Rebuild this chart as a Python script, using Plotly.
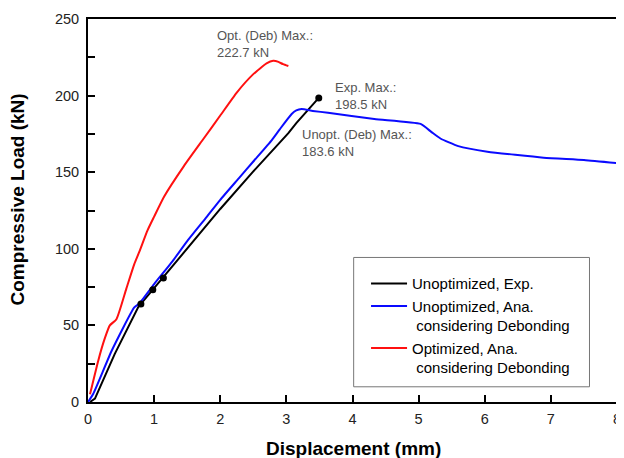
import plotly.graph_objects as go

# ---- data ----
exp_x = [0.03, 0.105, 0.405, 0.76, 0.8, 0.98, 1.14, 1.5, 2.0, 2.5, 3.03, 3.15, 3.49]
exp_y = [0.0, 2.2, 31.4, 62.0, 64.0, 73.3, 81.0, 99.5, 126.0, 150.5, 175.5, 182.0, 198.5]
exp_marker_x = [0.8, 0.98, 1.14, 3.49]
exp_marker_y = [64.0, 73.3, 81.0, 198.5]

unopt_x = [0.0, 0.08, 0.36, 0.7, 0.78, 1.0, 1.28, 1.5, 1.78, 2.0, 2.28, 2.5, 2.78, 2.9,
           3.08, 3.15, 3.23, 3.4, 3.63, 4.33, 5.03, 5.2, 5.33, 5.6, 6.04, 6.89, 7.5, 7.99]
unopt_y = [0.0, 5.4, 33.6, 61.7, 64.5, 77.0, 92.0, 105.0, 120.0, 132.0, 146.0, 157.0, 171.0, 178.0,
           188.0, 190.3, 191.2, 190.0, 188.8, 184.7, 181.5, 176.0, 172.0, 167.0, 163.4, 159.5, 158.0, 156.0]

opt_x = [0.03, 0.155, 0.25, 0.33, 0.43, 0.58, 0.7, 0.78, 0.9, 1.0, 1.15, 1.45, 1.75, 2.0,
         2.25, 2.5, 2.7, 2.8, 2.88, 2.95, 3.03]
opt_y = [5.0, 27.0, 41.0, 50.0, 54.0, 74.0, 90.0, 98.5, 112.0, 121.0, 134.0, 154.0, 172.0, 187.0,
         202.0, 214.0, 221.0, 222.7, 222.0, 220.5, 219.3]

names = ["Unoptimized, Exp.",
         "Unoptimized, Ana.<br>\u00a0considering Debonding",
         "Optimized, Ana.<br>\u00a0considering Debonding"]

x_ticks = [0, 1, 2, 3, 4, 5, 6, 7, 8]
y_ticks = [0, 50, 100, 150, 200, 250]

FONT = "Liberation Sans, Arial, sans-serif"

fig = go.Figure()
fig.add_trace(go.Scatter(x=exp_x, y=exp_y, mode="lines", name=names[0],
                         line=dict(color="black", width=2)))
fig.add_trace(go.Scatter(x=unopt_x, y=unopt_y, mode="lines", name=names[1],
                         line=dict(color="#0a0aff", width=2, shape="spline", smoothing=0.5)))
fig.add_trace(go.Scatter(x=opt_x, y=opt_y, mode="lines", name=names[2],
                         line=dict(color="#ff1010", width=2, shape="spline", smoothing=0.5)))
fig.add_trace(go.Scatter(x=exp_marker_x, y=exp_marker_y, mode="markers", showlegend=False,
                         marker=dict(color="black", size=7)))

ann_color = "#555555"
fig.add_annotation(x=1.92, y=233.9, xref="x", yref="y", xanchor="left", yanchor="middle",
                   text="Opt. (Deb) Max.:<br>222.7 kN", showarrow=False, align="left",
                   font=dict(family=FONT, size=13, color=ann_color))
fig.add_annotation(x=3.71, y=199.9, xref="x", yref="y", xanchor="left", yanchor="middle",
                   text="Exp. Max.:<br>198.5 kN", showarrow=False, align="left",
                   font=dict(family=FONT, size=13, color=ann_color))
fig.add_annotation(x=3.21, y=168.8, xref="x", yref="y", xanchor="left", yanchor="middle",
                   text="Unopt. (Deb) Max.:<br>183.6 kN", showarrow=False, align="left",
                   font=dict(family=FONT, size=13, color=ann_color))

# axis titles
fig.add_annotation(x=-0.1323, y=0.5286, xref="paper", yref="paper", textangle=-90,
                   xanchor="center", yanchor="middle", showarrow=False,
                   text="Compressive Load (kN)",
                   font=dict(family=FONT, size=19, color="black", weight="bold"))
fig.add_annotation(x=0.5024, y=-0.122, xref="paper", yref="paper",
                   xanchor="center", yanchor="middle", showarrow=False,
                   text="Displacement (mm)",
                   font=dict(family=FONT, size=19, color="black", weight="bold"))

# legend frame
fig.add_shape(type="rect", xref="paper", yref="paper", x0=0.5022, x1=0.948, y0=0.0397, y1=0.3774,
              line=dict(color="#777777", width=1), fillcolor="white", layer="below")

fig.update_layout(
    width=616, height=450,
    margin=dict(l=80, r=3, t=9, b=56),
    paper_bgcolor="white", plot_bgcolor="white",
    font=dict(family=FONT, size=14, color="#222222"),
    showlegend=True,
    legend=dict(x=0.5256, y=0.352, xanchor="left", yanchor="top",
                bgcolor="rgba(0,0,0,0)", borderwidth=0, valign="top", itemwidth=36,
                font=dict(family=FONT, size=15, color="black"), tracegroupgap=0),
    xaxis=dict(range=[0, 8], tickvals=x_ticks, ticks="inside", ticklen=7, tickwidth=1.5,
               tickcolor="black", showline=True, linecolor="black", linewidth=2, mirror=True,
               showgrid=False, zeroline=False, ticklabelstandoff=3,
               tickfont=dict(family=FONT, size=14.5, color="#222222")),
    yaxis=dict(range=[0, 250], tickvals=y_ticks, ticks="inside", ticklen=7, tickwidth=1.5,
               tickcolor="black", showline=True, linecolor="black", linewidth=2, mirror=True,
               showgrid=False, zeroline=False, ticklabelstandoff=4,
               tickfont=dict(family=FONT, size=14.5, color="#222222"),
               minor=dict(dtick=25, ticks="inside", ticklen=7, tickwidth=1.5, tickcolor="black",
                          showgrid=False)),
)

fig.write_html("out.html")
